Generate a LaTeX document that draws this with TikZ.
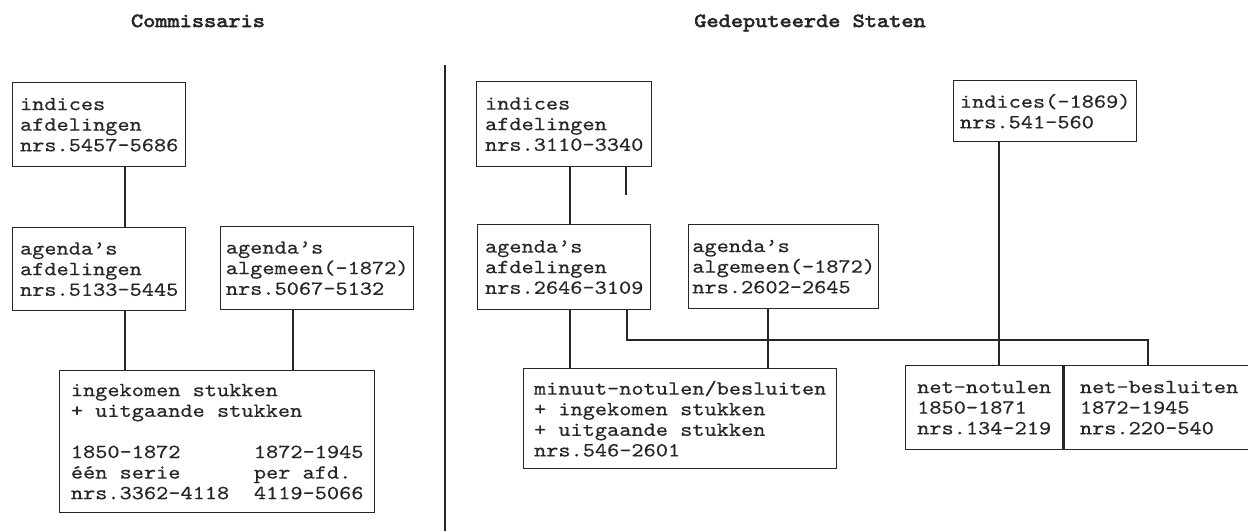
\documentclass[tikz,border=0pt]{standalone}
\usepackage{fontspec}
\setmonofont{lmmono10-regular.otf}[FakeStretch=1.16, FakeBold=0.4]
\newfontfamily\headfont{lmmono10-regular.otf}[FakeStretch=1.16, FakeBold=3]
\usetikzlibrary{calc}
\definecolor{ink}{gray}{0.15}
\begin{document}
\begin{tikzpicture}[x=1pt,y=-1pt,
  box/.style={draw=ink, line width=1.4pt, anchor=north west, align=left, inner xsep=3pt, inner ysep=2pt, font=\ttfamily\fontsize{20}{20.6}\selectfont, text=ink},
  title/.style={anchor=base, font=\headfont\fontsize{20}{20.6}\selectfont, text=ink},
  conn/.style={draw=ink, line width=1.4pt}]
\useasboundingbox (0,0) rectangle (1248,531);
\clip (0,0) rectangle (1248,531);
\fill[white] (0,0) rectangle (1248,531);
% titles
\node[title] (t1) at (198,27) {Commissaris};
\node[title] (t2) at (810,27) {Gedeputeerde Staten};
% Commissaris
\node[box, minimum width=173pt, minimum height=84pt] (ci) at (12,82) {indices\\afdelingen\\nrs.5457-5686};
\node[box, minimum width=173pt, minimum height=83pt] (ca) at (12,227) {agenda’s\\afdelingen\\nrs.5133-5445};
\node[box, minimum width=193pt, minimum height=83pt] (cg) at (220,226) {agenda’s\\algemeen(-1872)\\nrs.5067-5132};
\node[box, minimum width=315pt, minimum height=142pt] (ck) at (59,370) {ingekomen stukken\\+ uitgaande stukken\\[20.6pt]\makebox[183pt][l]{1850-1872}1872-1945\\\makebox[183pt][l]{één serie}per afd.\\\makebox[183pt][l]{nrs.3362-4118}4119-5066};
% Gedeputeerde Staten
\node[box, minimum width=175pt, minimum height=85pt] (gi) at (476,81) {indices\\afdelingen\\nrs.3110-3340};
\node[box, minimum width=173pt, minimum height=85pt] (ga) at (477,224) {agenda’s\\afdelingen\\nrs.2646-3109};
\node[box, minimum width=190pt, minimum height=84pt] (gg) at (688,224) {agenda’s\\algemeen(-1872)\\nrs.2602-2645};
\node[box, minimum width=313pt, minimum height=100pt] (gm) at (523,368) {minuut-notulen/besluiten\\+ ingekomen stukken\\+ uitgaande stukken\\nrs.546-2601};
\node[box, minimum width=183pt, minimum height=61pt] (gx) at (953,80) {indices(-1869)\\nrs.541-560};
\node[box, minimum width=157pt, minimum height=84pt] (gn) at (905,365) {net-notulen\\1850-1871\\nrs.134-219};
\node[box, minimum width=190pt, minimum height=84pt] (gb) at (gn.north east) {net-besluiten\\1872-1945\\nrs.220-540};
% divider
\coordinate (d1) at (445,65);
\coordinate (d2) at (445,531);
\draw[conn] (d1) -- (d2);
% left connectors
\coordinate (x1) at (125,0);
\coordinate (x2) at (293,0);
\draw[conn] (ci.south -| x1) -- (ca.north -| x1);
\draw[conn] (ca.south -| x1) -- (ck.north -| x1);
\draw[conn] (cg.south -| x2) -- (ck.north -| x2);
% right connectors
\coordinate (x3) at (570,0);
\coordinate (x4) at (768,0);
\coordinate (x5) at (999,0);
\coordinate (stub) at (626,195);
\coordinate (b1) at (627,340);
\coordinate (b2) at (1148,340);
\draw[conn] (gi.south -| x3) -- (ga.north -| x3);
\draw[conn] (gi.south -| stub) -- (stub);
\draw[conn] (ga.south -| x3) -- (gm.north -| x3);
\draw[conn] (gg.south -| x4) -- (gm.north -| x4);
\draw[conn] (ga.south -| b1) -- (b1) -- (b2) -- (gb.north -| b2);
\draw[conn] (gx.south -| x5) -- (gn.north -| x5);
\end{tikzpicture}
\end{document}
